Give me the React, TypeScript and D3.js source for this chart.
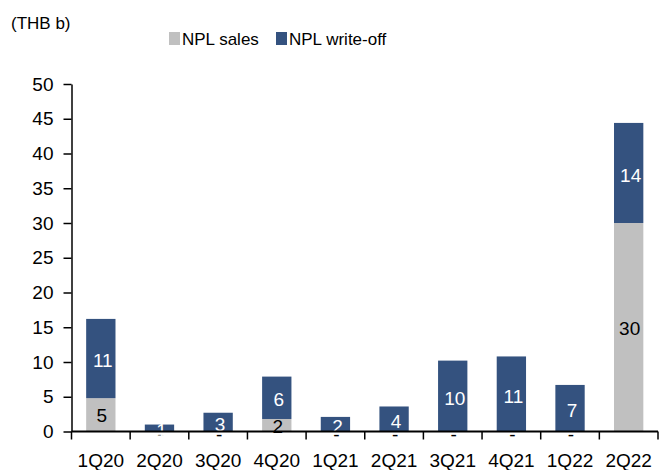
import React, { useEffect, useRef } from 'react';
import * as d3 from 'd3';

const quarters = ['1Q20', '2Q20', '3Q20', '4Q20', '1Q21', '2Q21', '3Q21', '4Q21', '1Q22', '2Q22'];
const nplSales = [4.8, 0, 0, 1.8, 0, 0, 0, 0, 0, 30.0];
const nplWriteOff = [11.4, 1.0, 2.7, 6.1, 2.1, 3.6, 10.2, 10.8, 6.7, 14.4];
const yTicks = [0, 5, 10, 15, 20, 25, 30, 35, 40, 45, 50];

const seriesNames = ['NPL sales', 'NPL write-off'];
const colors = ['#C0C0C0', '#34527F'];

const width = 668;
const height = 470;

const App = () => {
  const ref = useRef<SVGSVGElement>(null);

  useEffect(() => {
    document.body.style.margin = '0';
    const svg = d3.select(ref.current);
    svg.selectAll('*').remove();

    const font = 'Liberation Sans, Arial, sans-serif';

    const xScale = d3.scaleBand()
      .domain(quarters)
      .range([71.5, 658])
      .paddingInner(0.5)
      .paddingOuter(0.25);

    const yScale = d3.scaleLinear()
      .domain([0, 50])
      .range([431.5, 84]);

    const rows = quarters.map((q, i) => ({ q, sales: nplSales[i], wo: nplWriteOff[i] }));

    // bars
    const g = svg.append('g');
    g.selectAll('.sales')
      .data(rows)
      .enter().append('rect')
      .attr('x', d => xScale(d.q)!)
      .attr('width', xScale.bandwidth())
      .attr('y', d => yScale(d.sales))
      .attr('height', d => yScale(0) - yScale(d.sales))
      .style('fill', colors[0]);

    g.selectAll('.wo')
      .data(rows)
      .enter().append('rect')
      .attr('x', d => xScale(d.q)!)
      .attr('width', xScale.bandwidth())
      .attr('y', d => yScale(d.sales + d.wo))
      .attr('height', d => yScale(d.sales) - yScale(d.sales + d.wo))
      .style('fill', colors[1]);

    // axes
    const yAxis = svg.append('g')
      .attr('transform', `translate(${xScale.range()[0]},0)`)
      .call(d3.axisLeft(yScale).tickValues(yTicks).tickSize(8).tickPadding(10).tickSizeOuter(0));
    yAxis.select('.domain').attr('stroke', '#000').attr('stroke-width', 1.5);
    yAxis.selectAll('line').attr('stroke', '#000').attr('stroke-width', 1.5);
    yAxis.selectAll('text').style('font-family', font).style('font-size', '19px').style('fill', '#000');

    const xAxisG = svg.append('g').attr('transform', `translate(0,${yScale(0)})`);
    xAxisG.append('line')
      .attr('x1', xScale.range()[0]).attr('x2', xScale.range()[1])
      .attr('stroke', '#000').attr('stroke-width', 2);
    const step = xScale.step();
    const bounds = d3.range(quarters.length + 1).map(i => xScale.range()[0] + i * step);
    xAxisG.selectAll('.xt')
      .data(bounds)
      .enter().append('line')
      .attr('x1', d => d).attr('x2', d => d)
      .attr('y1', 0).attr('y2', 8)
      .attr('stroke', '#000').attr('stroke-width', 1.5);
    xAxisG.selectAll('.xl')
      .data(quarters)
      .enter().append('text')
      .attr('x', d => xScale(d)! + xScale.bandwidth() / 2)
      .attr('y', 35)
      .attr('text-anchor', 'middle')
      .text(d => d)
      .style('font-family', font)
      .style('font-size', '19px')
      .style('fill', '#000');

    // data labels
    g.selectAll('.sl')
      .data(rows)
      .enter().append('text')
      .attr('x', d => xScale(d.q)! + xScale.bandwidth() / 2 + 1)
      .attr('y', d => (yScale(0) + yScale(d.sales)) / 2)
      .attr('dy', d => d.sales === 0 ? '0.52em' : '0.4em')
      .attr('text-anchor', 'middle')
      .text(d => d.sales === 0 ? '-' : d3.format('.0f')(d.sales))
      .style('font-family', font)
      .style('font-size', '19px')
      .style('fill', '#000');

    g.selectAll('.wl')
      .data(rows)
      .enter().append('text')
      .attr('x', d => xScale(d.q)! + xScale.bandwidth() / 2 + 2)
      .attr('y', d => (yScale(d.sales) + yScale(d.sales + d.wo)) / 2)
      .attr('dy', '0.45em')
      .attr('text-anchor', 'middle')
      .text(d => d3.format('.0f')(d.wo))
      .style('font-family', font)
      .style('font-size', '19px')
      .style('fill', '#fff');

    // unit label
    svg.append('text')
      .attr('x', 11)
      .attr('y', 29)
      .text('(THB b)')
      .style('font-family', font)
      .style('font-size', '17px')
      .style('fill', '#000');

    // legend
    const legendX = [169, 276];
    seriesNames.forEach((name, i) => {
      svg.append('rect')
        .attr('x', legendX[i]).attr('y', 32)
        .attr('width', 11).attr('height', 13)
        .style('fill', colors[i]);
      svg.append('text')
        .attr('x', legendX[i] + 13)
        .attr('y', 45)
        .text(name)
        .style('font-family', font)
        .style('font-size', '17px')
        .style('fill', '#000');
    });
  }, []);

  return <svg ref={ref} width={width} height={height} style={{ display: 'block' }}></svg>;
};

export default App;
